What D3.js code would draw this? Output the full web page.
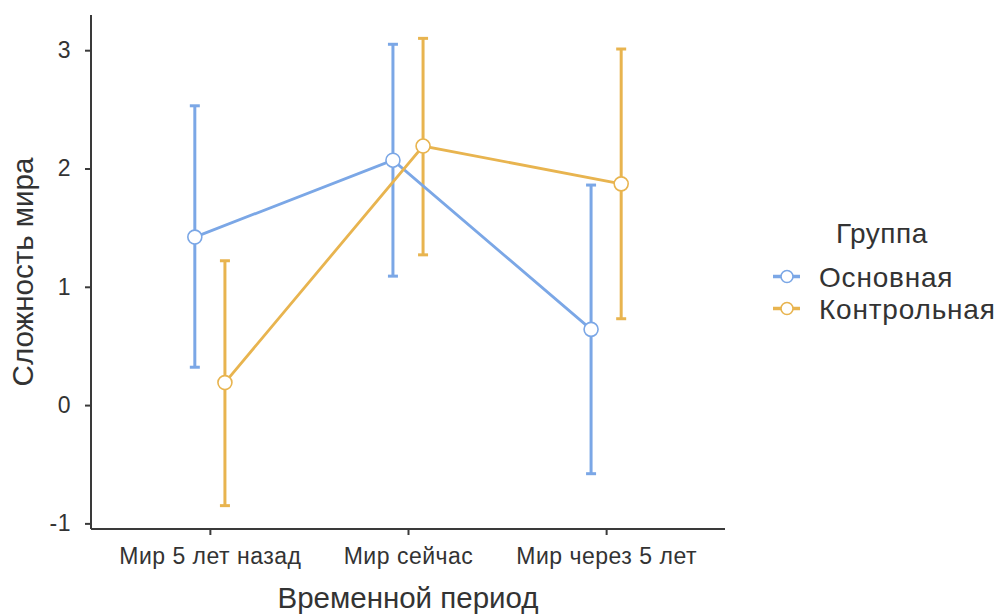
<!DOCTYPE html>
<html>
<head>
<meta charset="utf-8">
<script src="https://cdn.jsdelivr.net/npm/d3@7"></script>
<style>
  body { margin: 0; background: #fff; }
  text { font-family: "Liberation Sans", Arial, sans-serif; fill: #333; }
</style>
</head>
<body>
<div id="chart"></div>
<script>
const periods = ["Мир 5 лет назад", "Мир сейчас", "Мир через 5 лет"];
const groups = ["Основная", "Контрольная"];
const colors = ["#7ba7e6", "#e8b44f"];

// mean, lower, upper for each group by period
const mainMean  = [1.42, 2.07, 0.64];
const mainLow   = [0.32, 1.09, -0.58];
const mainHigh  = [2.53, 3.05, 1.86];
const ctrlMean  = [0.19, 2.19, 1.87];
const ctrlLow   = [-0.85, 1.27, 0.73];
const ctrlHigh  = [1.22, 3.10, 3.01];
const yTicks = [-1, 0, 1, 2, 3];

const series = [
  {name: groups[0], color: colors[0], mean: mainMean, low: mainLow, high: mainHigh, side: -1},
  {name: groups[1], color: colors[1], mean: ctrlMean, low: ctrlLow, high: ctrlHigh, side: 1}
];

const width = 998, height = 614;
const margin = {top: 15, right: 273, bottom: 85, left: 91};

const svg = d3.select("#chart").append("svg")
  .attr("width", width)
  .attr("height", height);

const x = d3.scalePoint()
  .domain(periods)
  .range([margin.left, width - margin.right])
  .padding(0.6);

const allVals = d3.merge([mainLow, mainHigh, ctrlLow, ctrlHigh]);
const lo = d3.min(allVals), hi = d3.max(allVals);
const pad = (hi - lo) * 0.05;
const y = d3.scaleLinear()
  .domain([lo - pad, hi + pad])
  .range([height - margin.bottom, margin.top]);

const dodge = x.step() * 0.076;

// axes
const xAxis = svg.append("g")
  .attr("transform", `translate(0,${height - margin.bottom})`)
  .call(d3.axisBottom(x).tickSize(6).tickPadding(13));
const yAxis = svg.append("g")
  .attr("transform", `translate(${margin.left},0)`)
  .call(d3.axisLeft(y).tickValues(yTicks).tickFormat(d => String(d)).tickSize(6).tickPadding(14));

[xAxis, yAxis].forEach(a => {
  a.select(".domain").attr("stroke", "#3a3a3a").attr("stroke-width", 2);
  a.selectAll(".tick line").attr("stroke", "#3a3a3a").attr("stroke-width", 2);
  a.selectAll(".tick text").attr("font-size", 23).attr("fill", "#3d3d3d")
    .style("font-family", "'Liberation Sans', Arial, sans-serif")
    .style("letter-spacing", "0.5px");
});
xAxis.select(".domain").attr("d", `M${margin.left},0H${width - margin.right}`);
yAxis.select(".domain").attr("d", `M0,${height - margin.bottom}V${margin.top}`);

// error bars
series.forEach(s => {
  const g = svg.append("g");
  periods.forEach((p, i) => {
    const cx = x(p) + s.side * dodge;
    g.append("line")
      .attr("x1", cx).attr("x2", cx)
      .attr("y1", y(s.low[i])).attr("y2", y(s.high[i]))
      .attr("stroke", s.color).attr("stroke-width", 3);
    [s.low[i], s.high[i]].forEach(v => {
      g.append("line")
        .attr("x1", cx - 5).attr("x2", cx + 5)
        .attr("y1", y(v)).attr("y2", y(v))
        .attr("stroke", s.color).attr("stroke-width", 3);
    });
  });
});

// lines
const line = d3.line()
  .x(d => d.x)
  .y(d => y(d.v));
series.forEach(s => {
  const pts = periods.map((p, i) => ({x: x(p) + s.side * dodge, v: s.mean[i]}));
  svg.append("path")
    .attr("d", line(pts))
    .attr("fill", "none")
    .attr("stroke", s.color)
    .attr("stroke-width", 2.8);
});

// points
series.forEach(s => {
  svg.selectAll(null)
    .data(periods)
    .enter()
    .append("circle")
    .attr("cx", (p) => x(p) + s.side * dodge)
    .attr("cy", (p, i) => y(s.mean[i]))
    .attr("r", 7)
    .attr("fill", "#fff")
    .attr("stroke", s.color)
    .attr("stroke-width", 1.6);
});

// axis titles
svg.append("text")
  .attr("x", (margin.left + width - margin.right) / 2)
  .attr("y", 608)
  .attr("text-anchor", "middle")
  .attr("font-size", 29.5)
  .text("Временной период");

svg.append("text")
  .attr("transform", `translate(33,${(margin.top + height - margin.bottom) / 2}) rotate(-90)`)
  .attr("text-anchor", "middle")
  .attr("font-size", 29.5)
  .text("Сложность мира");

// legend
const legend = svg.append("g").attr("transform", "translate(773,0)");
legend.append("text")
  .attr("x", 63).attr("y", 243)
  .attr("font-size", 28)
  .style("letter-spacing", "0.5px")
  .text("Группа");

series.forEach((s, i) => {
  const ly = 276.5 + i * 32;
  legend.append("line")
    .attr("x1", 0).attr("x2", 27)
    .attr("y1", ly).attr("y2", ly)
    .attr("stroke", s.color).attr("stroke-width", 3.5);
  legend.append("circle")
    .attr("cx", 14).attr("cy", ly).attr("r", 6)
    .attr("fill", "#fff")
    .attr("stroke", s.color).attr("stroke-width", 1.6);
  legend.append("text")
    .attr("x", 46).attr("y", ly + 10)
    .attr("font-size", 28)
    .style("letter-spacing", "0.8px")
    .text(s.name);
});
</script>
</body>
</html>
